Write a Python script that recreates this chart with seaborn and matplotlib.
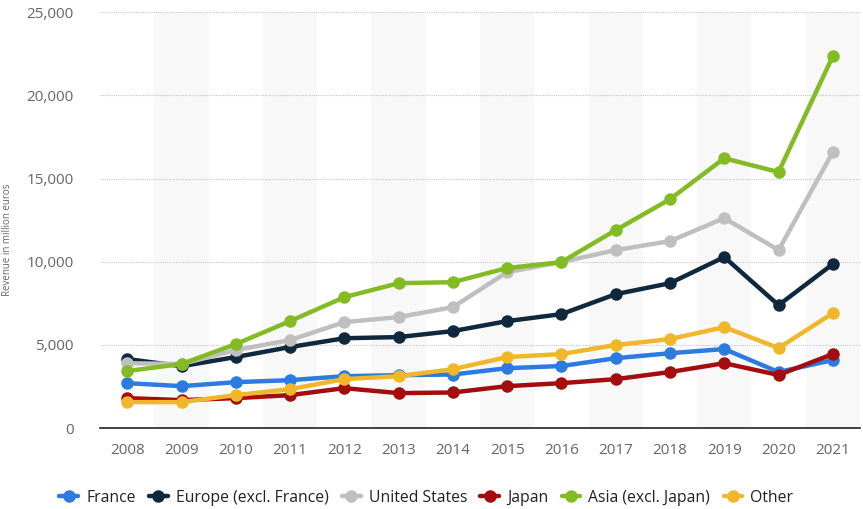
import matplotlib
matplotlib.use('Agg')
import matplotlib.pyplot as plt
import matplotlib.ticker as mticker
import pandas as pd
import seaborn as sns

# Data (revenue in million euros)
years = [2008, 2009, 2010, 2011, 2012, 2013, 2014, 2015, 2016, 2017, 2018, 2019, 2020, 2021]
france = [2700, 2520, 2760, 2880, 3120, 3180, 3220, 3600, 3730, 4200, 4500, 4750, 3370, 4090]
europe = [4150, 3720, 4270, 4870, 5400, 5470, 5830, 6430, 6850, 8050, 8710, 10280, 7390, 9860]
united_states = [3900, 3850, 4690, 5290, 6370, 6670, 7270, 9375, 9980, 10700, 11240, 12620, 10700, 16590]
japan = [1800, 1680, 1800, 1980, 2400, 2100, 2140, 2520, 2700, 2940, 3370, 3900, 3190, 4450]
asia = [3430, 3850, 5050, 6430, 7870, 8710, 8770, 9620, 9980, 11900, 13760, 16220, 15390, 22360]
other = [1560, 1560, 1980, 2340, 2940, 3120, 3540, 4270, 4450, 4990, 5350, 6070, 4810, 6910]

series_names = ['France', 'Europe (excl. France)', 'United States', 'Japan', 'Asia (excl. Japan)', 'Other']
series_values = [france, europe, united_states, japan, asia, other]
colors = ['#2b7be0', '#10283e', '#bfbfbf', '#a30d0d', '#83bc22', '#f0b72a']

# long format table for seaborn
rows = []
for name, vals in zip(series_names, series_values):
    for y, v in zip(years, vals):
        rows.append({'year': y, 'revenue': v, 'region': name})
df = pd.DataFrame(rows)

sns.set_style('white')
plt.rcParams['font.family'] = ['Open Sans', 'DejaVu Sans']

fig = plt.figure(figsize=(8.63, 5.09), dpi=100)
ax = fig.add_axes([0.116, 0.159, 0.8805, 0.817])

# alternating column bands
for i, y in enumerate(years):
    if i % 2 == 1:
        ax.axvspan(y - 0.5, y + 0.5, color='#f8f8f8', zorder=0, lw=0)

sns.lineplot(data=df, x='year', y='revenue', hue='region', hue_order=series_names,
             palette=colors, marker='o', markersize=9, markeredgewidth=0,
             linewidth=3.2, ax=ax, legend=True, zorder=3)

ax.set_xlim(years[0] - 0.5, years[-1] + 0.5)
ax.set_ylim(0, 25000)
ax.set_xticks(years)
ax.set_yticks(range(0, 25001, 5000))
ax.yaxis.set_major_formatter(mticker.FuncFormatter(lambda v, p: f'{int(v):,}'))
ax.yaxis.grid(True, linestyle=(0, (1, 1)), color='#c8c8c8', linewidth=0.8)
ax.set_axisbelow(True)

for s in ['top', 'right', 'left']:
    ax.spines[s].set_visible(False)
ax.spines['bottom'].set_color('#222222')
ax.spines['bottom'].set_linewidth(1.2)

ax.tick_params(axis='both', length=0, labelsize=11, colors='#666666')
ax.tick_params(axis='x', pad=11)
ax.tick_params(axis='y', pad=19)
ax.set_xlabel('')
ax.set_ylabel('Revenue in million euros', fontsize=7, color='#666666')
ax.yaxis.set_label_coords(-0.114, 0.452)

handles, labels = ax.get_legend_handles_labels()
ax.get_legend().remove()
fig.legend(handles, labels, loc='center', bbox_to_anchor=(0.494, 0.022), ncol=6,
           frameon=False, fontsize=11.3, handlelength=1.2, columnspacing=0.85,
           handletextpad=0.5, labelcolor='#222222')

fig.savefig('out.png', dpi=100)
